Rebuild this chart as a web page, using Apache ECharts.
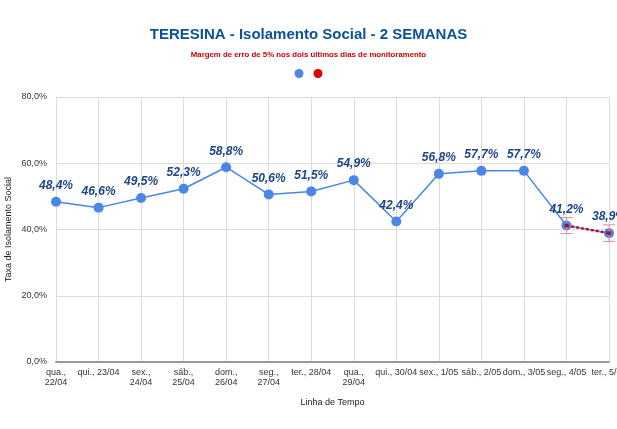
<!DOCTYPE html>
<html>
<head>
<meta charset="utf-8">
<script src="https://cdn.jsdelivr.net/npm/echarts@6/dist/echarts.min.js"></script>
<style>
  html, body { margin: 0; padding: 0; background: #fff; }
  #chart { width: 617px; height: 429px; }
</style>
</head>
<body>
<div id="chart"></div>
<script>
// dias do monitoramento
const dias = ['qua.,\n22/04', 'qui., 23/04', 'sex.,\n24/04', 'sáb.,\n25/04', 'dom.,\n26/04', 'seg.,\n27/04', 'ter., 28/04',
  'qua.,\n29/04', 'qui., 30/04', 'sex., 1/05', 'sáb., 2/05', 'dom., 3/05', 'seg., 4/05', 'ter., 5/05']
// taxa de isolamento (%)
const isolamento = [48.4, 46.6, 49.5, 52.3, 58.8, 50.6, 51.5, 54.9, 42.4, 56.8, 57.7, 57.7, 41.2, 38.9]
// ultimos dois dias (margem de erro)
const ultimos = [null, null, null, null, null, null, null, null, null, null, null, null, 41.2, 38.9]
const margemBaixa = [null, null, null, null, null, null, null, null, null, null, null, null, 38.8, 36.4]
const margemAlta = [null, null, null, null, null, null, null, null, null, null, null, null, 43.6, 41.4]
const yTicks = [0, 20, 40, 60, 80]

const fmt = v => v.toFixed(1).replace('.', ',') + '%'

let chart = echarts.init(document.getElementById('chart'))

let erroData = []
margemBaixa.forEach((v, i) => {
  if (v !== null) erroData.push([i, v, margemAlta[i]])
})

let option = {
  animation: false,
  title: [
    {
      text: 'TERESINA - Isolamento Social - 2 SEMANAS',
      left: 'center',
      top: 22,
      textStyle: { fontFamily: 'Liberation Sans', fontSize: 15, fontWeight: 'bold', color: '#0b5394' }
    },
    {
      text: 'Margem de erro de 5% nos dois últimos dias de monitoramento',
      left: 'center',
      top: 46,
      textStyle: { fontFamily: 'Liberation Sans', fontSize: 7.8, fontWeight: 'bold', color: '#cc0000' }
    }
  ],
  legend: {
    top: 64,
    left: 'center',
    itemGap: 10,
    itemWidth: 9,
    itemHeight: 9,
    data: [
      { name: 'Isolamento', icon: 'circle', itemStyle: { color: '#4a86e8' } },
      { name: 'Margem', icon: 'circle', itemStyle: { color: '#e00000' } }
    ],
    formatter: () => ''
  },
  grid: { left: 56, right: 8, top: 97, bottom: 67, outerBoundsMode: 'none' },
  xAxis: {
    type: 'category',
    data: dias,
    boundaryGap: false,
    name: 'Linha de Tempo',
    nameLocation: 'middle',
    nameGap: 36,
    nameTextStyle: { fontFamily: 'Liberation Sans', fontSize: 9, color: '#222' },
    axisLine: { lineStyle: { color: '#999', width: 2 } },
    axisTick: { show: false },
    axisLabel: { interval: 0, fontFamily: 'Liberation Sans', fontSize: 9, color: '#333', lineHeight: 10, margin: 6 },
    splitLine: { show: true, lineStyle: { color: '#dcdcdc' } }
  },
  yAxis: {
    type: 'value',
    min: yTicks[0],
    max: yTicks[yTicks.length - 1],
    interval: 20,
    name: 'Taxa de Isolamento Social',
    nameLocation: 'middle',
    nameGap: 43,
    nameMoveOverlap: false,
    nameTextStyle: { fontFamily: 'Liberation Sans', fontSize: 9, color: '#222' },
    axisLine: { show: false },
    axisTick: { show: false },
    axisLabel: { fontFamily: 'Liberation Sans', fontSize: 9, color: '#333', margin: 9, formatter: v => v.toFixed(1).replace('.', ',') + '%' },
    splitLine: { lineStyle: { color: '#dcdcdc' } }
  },
  series: [
    {
      name: 'Isolamento',
      type: 'line',
      data: isolamento,
      symbol: 'circle',
      symbolSize: 10,
      lineStyle: { color: '#4a86e8', width: 1.5 },
      itemStyle: { color: '#4a86e8' },
      label: {
        show: true,
        position: 'top',
        distance: 5,
        formatter: p => fmt(p.value),
        fontFamily: 'Liberation Sans',
        fontSize: 12,
        fontWeight: 'bold',
        fontStyle: 'italic',
        color: '#1c4587'
      },
      z: 2
    },
    {
      name: 'Margem',
      type: 'line',
      data: ultimos,
      symbol: 'circle',
      symbolSize: 4,
      lineStyle: { color: '#cc0000', width: 2.5, type: 'dotted' },
      itemStyle: { color: '#cc0000' },
      z: 4
    },
    {
      name: 'Erro',
      type: 'custom',
      data: erroData,
      z: 3,
      renderItem (params, api) {
        let lo = api.coord([api.value(0), api.value(1)])
        let hi = api.coord([api.value(0), api.value(2)])
        let w = 6
        let st = { stroke: '#e58a9a', lineWidth: 1 }
        return {
          type: 'group',
          children: [
            { type: 'line', shape: { x1: lo[0], y1: lo[1], x2: hi[0], y2: hi[1] }, style: st },
            { type: 'line', shape: { x1: lo[0] - w, y1: lo[1], x2: lo[0] + w, y2: lo[1] }, style: st },
            { type: 'line', shape: { x1: hi[0] - w, y1: hi[1], x2: hi[0] + w, y2: hi[1] }, style: st }
          ]
        }
      }
    }
  ]
}

chart.setOption(option)
</script>
</body>
</html>
